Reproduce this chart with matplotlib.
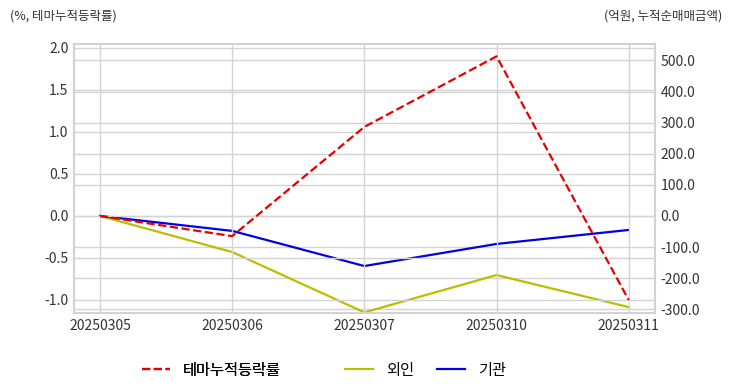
import matplotlib
matplotlib.use('Agg')
import matplotlib.pyplot as plt

plt.rcParams['font.family'] = ['Noto Sans CJK KR', 'DejaVu Sans']

dates = ['20250305', '20250306', '20250307', '20250310', '20250311']
theme = [0.0, -0.24, 1.06, 1.90, -1.00]
foreign = [0.0, -116.0, -310.0, -190.0, -293.0]
inst = [0.0, -48.0, -161.0, -90.0, -45.0]

fig = plt.figure(figsize=(7.32, 3.92), dpi=100)
ax1 = fig.add_axes([0.101, 0.2015, 0.794, 0.6865])
ax2 = ax1.twinx()

x = range(len(dates))
l1, = ax1.plot(x, theme, color='#e60000', ls='--', lw=1.6, label='테마누적등락률')
l2, = ax2.plot(x, foreign, color='#bdbd00', lw=1.6, label='외인')
l3, = ax2.plot(x, inst, color='#0000e0', lw=1.6, label='기관')

ax1.set_xlim(-0.197, 4.2)
ax1.set_ylim(-1.155, 2.048)
ax2.set_ylim(-312, 553)
ax1.set_yticks([-1.0, -0.5, 0.0, 0.5, 1.0, 1.5, 2.0])
ax1.set_yticklabels(['%.1f' % v for v in ax1.get_yticks()])
ax2.set_yticks([-300, -200, -100, 0, 100, 200, 300, 400, 500])
ax2.set_yticklabels(['%.1f' % v for v in ax2.get_yticks()])
ax1.set_xticks(list(x))
ax1.set_xticklabels(dates)

for ax in (ax1, ax2):
    ax.tick_params(length=0, labelsize=10, colors='#333333', pad=4)
    ax.grid(True, color='#d3d3d3', lw=1)
    for s in ax.spines.values():
        s.set_color('#d3d3d3')
        s.set_linewidth(1.5)
ax2.grid(True, axis='y', color='#d3d3d3', lw=1)
ax2.xaxis.grid(False)
ax1.set_zorder(ax2.get_zorder() + 1)
ax1.patch.set_visible(False)

fig.text(10 / 732, 1 - 16 / 392, '(%, 테마누적등락률)', fontsize=9, color='#333333', va='center', ha='left')
fig.text(722 / 732, 1 - 16 / 392, '(억원, 누적순매매금액)', fontsize=9, color='#333333', va='center', ha='right')

leg1 = fig.legend(handles=[l1], loc='center left', bbox_to_anchor=(128 / 732, 1 - 370 / 392),
                  frameon=False, fontsize=11, handlelength=1.85, handletextpad=0.85)
fig.legend(handles=[l2, l3], loc='center left', bbox_to_anchor=(331 / 732, 1 - 370 / 392),
           frameon=False, fontsize=11, ncol=2, handlelength=1.85, handletextpad=0.85, columnspacing=1.5)
fig.add_artist(leg1)

fig.savefig('out.png', dpi=100)
